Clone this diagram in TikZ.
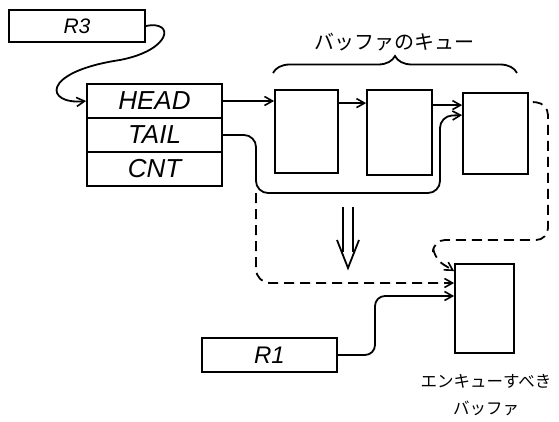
\documentclass[tikz,border=0pt]{standalone}
\usepackage{fontspec}
\newfontfamily\jp{Noto Sans CJK JP}
\newfontfamily\hand{Liberation Sans}
\usetikzlibrary{arrows.meta,decorations.pathreplacing}
\begin{document}
\begin{tikzpicture}[x=1pt,y=-1pt,
  line width=1.8pt,
  box/.style={draw,line width=1.8pt,inner sep=0pt,font=\hand\itshape\fontsize{26}{28}\selectfont},
  arr/.style={-{Straight Barb[length=8pt,width=9pt,line width=1.6pt]},line width=1.8pt},
  dsh/.style={dash pattern=on 10pt off 6pt},
  lbl/.style={font=\jp\fontsize{16.5}{20}\selectfont,inner sep=0pt}]
\useasboundingbox (0,0) rectangle (559,422);
% register boxes
\node[box,minimum width=136pt,minimum height=32pt,font=\hand\itshape\fontsize{21}{22}\selectfont] (r3) at (77,26) {R3};
\node[box,minimum width=135pt,minimum height=34pt] (head) at (154.5,101) {HEAD};
\node[box,minimum width=135pt,minimum height=34pt] (tail) at (154.5,135) {TAIL};
\node[box,minimum width=135pt,minimum height=34pt] (cnt) at (154.5,169) {CNT};
\node[box,minimum width=135pt,minimum height=34pt,font=\hand\itshape\fontsize{24}{26}\selectfont] (r1) at (269.5,355) {R1};
% buffers
\node[box,minimum width=63pt,minimum height=83pt] (b1) at (306.5,131.5) {};
\node[box,minimum width=65pt,minimum height=85pt] (b2) at (399.5,132.5) {};
\node[box,minimum width=65pt,minimum height=81pt] (b3) at (495.5,133.5) {};
\node[box,minimum width=59pt,minimum height=89pt] (enq) at (484.5,308.5) {};
% labels
\node[lbl,font=\jp\fontsize{20}{22}\selectfont] (qlbl) at (394,42) {バッファのキュー};
\node[lbl,align=center] (elbl) at (486,395) {エンキューすべき\\[7pt]バッファ};
% brace
\draw[decorate,decoration={brace,amplitude=17pt}] (273,73) -- (517,73);
% R3 -> HEAD
\draw[arr] (r3.east) .. controls (175,20) and (172,50) .. (120,60)
  .. controls (40,72) and (45,105) .. (head.west);
% queue links
\draw[arr] (head.east) -- (head.east -| b1.west);
\draw[arr] ([yshift=-14pt]b1.north east) -- ([yshift=-14pt]b1.north east -| b2.west);
\draw[arr] ([yshift=-16pt]b2.north east) -- ([yshift=-16pt]b2.north east -| b3.west);
% TAIL -> last buffer
\coordinate (br) at (256,193);
\draw[arr,rounded corners=12pt] (tail.east) -- (256,135) -- (br) -- (440,193) -- (440,116) -- ([yshift=-23pt]b3.north west);
% new tail (dashed)
\draw[arr,dsh,rounded corners=14pt] (br) -- (256,283) -- (enq.west |- 0,283);
% last buffer -> enqueue buffer (dashed)
\coordinate (bx) at ([yshift=-10pt]b3.north east);
\draw[arr,dsh,rounded corners=12pt] ([xshift=4pt]bx) -- (548,103) -- (548,240) -- (433,240) -- (433,258) -- ([yshift=-8pt]enq.north west);
% R1 -> enqueue buffer
\draw[arr,rounded corners=10pt] (r1.east) -- (375,355) -- (375,296) -- (enq.west |- 0,296);
% double arrow
\draw (343,207) -- (343,252);
\draw (353,207) -- (353,252);
\draw (337,240) -- (348,268) -- (359,240);
\end{tikzpicture}
\end{document}
